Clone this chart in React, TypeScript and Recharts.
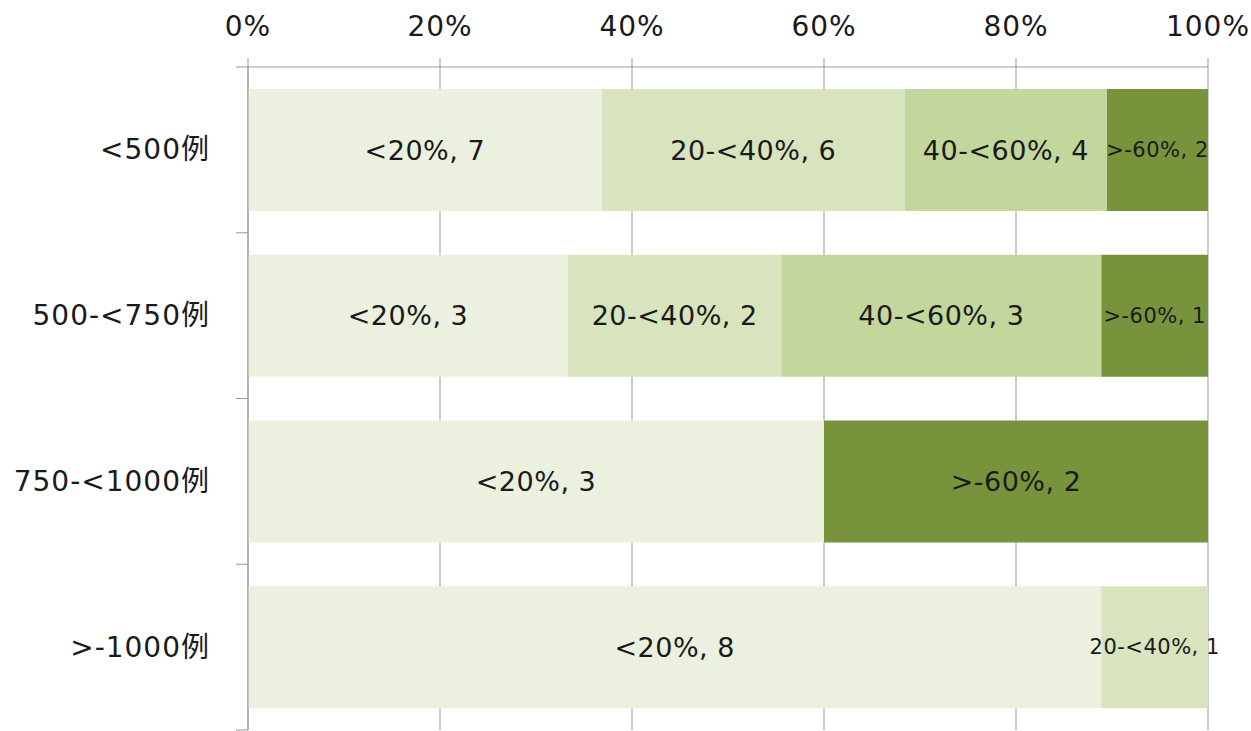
import React from "react";
import { BarChart, Bar, XAxis, YAxis, CartesianGrid, LabelList } from "recharts";

const categories = ["<500例", "500-<750例", "750-<1000例", ">-1000例"];
const seriesNames = ["<20%", "20-<40%", "40-<60%", ">-60%"];
const under20 = [7, 3, 3, 8];
const from20to40 = [6, 2, 0, 1];
const from40to60 = [4, 3, 0, 0];
const over60 = [2, 1, 2, 0];
const xTicks = [0, 0.2, 0.4, 0.6, 0.8, 1];

const colors = ["#EBF1DE", "#D7E4BD", "#C3D69B", "#77933C"];
const FONT = "'DejaVu Sans', 'Noto Sans CJK SC', sans-serif";

const WIDTH = 1251;
const HEIGHT = 731;
const X_AXIS_H = 67;
const Y_AXIS_W = 248;
const MARGIN = { top: 0, right: 43, bottom: 1, left: 0 };
const BAND = (HEIGHT - X_AXIS_H - MARGIN.top - MARGIN.bottom) / categories.length;

const seriesKeys = ["s0", "s1", "s2", "s3"];
const seriesValues = [under20, from20to40, from40to60, over60];

const data = categories.map((name, i) => {
  const row: Record<string, string | number> = { name };
  seriesKeys.forEach((k, j) => {
    row[k] = seriesValues[j][i];
  });
  return row;
});

const CategoryTick = (props: any) => {
  const { x, y, payload, index } = props;
  const last = index === categories.length - 1;
  return (
    <g>
      <line x1={x - 12} x2={x} y1={y - BAND / 2} y2={y - BAND / 2} stroke="#999" />
      {last && <line x1={x - 12} x2={x} y1={y + BAND / 2} y2={y + BAND / 2} stroke="#999" />}
      <text
        x={x - 38}
        y={y}
        textAnchor="end"
        dominantBaseline="central"
        fontSize={28}
        letterSpacing={1}
        fontFamily={FONT}
        fill="#1a1a1a"
      >
        {payload.value}
      </text>
    </g>
  );
};

const makeLabel = (seriesName: string) => (props: any) => {
  const { x, y, width, height, value } = props;
  if (!value) return null;
  const small = width < 120;
  return (
    <text
      x={x + width / 2}
      y={y + height / 2}
      textAnchor="middle"
      dominantBaseline="central"
      fontSize={small ? 21 : 27}
      letterSpacing={0.5}
      fontFamily={FONT}
      fill="#1a1a1a"
    >
      {`${seriesName}, ${value}`}
    </text>
  );
};

export default function App() {
  return (
    <div style={{ position: "absolute", left: 0, top: 0, background: "#fff" }}>
      <BarChart
        width={WIDTH}
        height={HEIGHT}
        data={data}
        layout="vertical"
        stackOffset="expand"
        margin={MARGIN}
        barSize={122}
      >
        <CartesianGrid vertical horizontal={false} stroke="#999" />
        <XAxis
          type="number"
          orientation="top"
          domain={[0, 1]}
          ticks={xTicks}
          height={X_AXIS_H}
          tickFormatter={(v: number) => `${Math.round(v * 100)}%`}
          tick={{ fontSize: 28, fontFamily: FONT, fill: "#1a1a1a", letterSpacing: 1 }}
          tickSize={9}
          tickMargin={22}
          axisLine={{ stroke: "#999" }}
          tickLine={{ stroke: "#999" }}
        />
        <YAxis
          type="category"
          dataKey="name"
          width={Y_AXIS_W}
          tick={<CategoryTick />}
          tickSize={0}
          tickMargin={0}
          tickLine={false}
          axisLine={{ stroke: "#999" }}
          interval={0}
        />
        {seriesKeys.map((k, j) => (
          <Bar key={k} dataKey={k} name={seriesNames[j]} stackId="a" fill={colors[j]} isAnimationActive={false}>
            <LabelList dataKey={k} content={makeLabel(seriesNames[j])} />
          </Bar>
        ))}
      </BarChart>
    </div>
  );
}
